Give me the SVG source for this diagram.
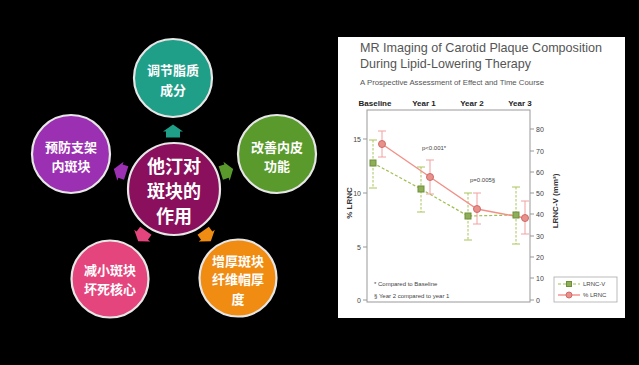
<svg xmlns="http://www.w3.org/2000/svg" xmlns:xlink="http://www.w3.org/1999/xlink" width="639" height="365" viewBox="0 0 639 365">
<style>
.node circle{stroke:#e6e6e6;stroke-width:2.2}
.zh{font-family:"Noto Sans CJK SC","Noto Sans CJK TC",sans-serif;font-weight:bold;fill:#fff;text-anchor:middle}
.o{font-size:13px}
.c{font-size:18px}
.t{font-family:"Liberation Sans","Noto Sans",sans-serif;fill:#555}
.hd{font-family:"Liberation Sans",sans-serif;font-weight:bold;font-size:8px;fill:#222;text-anchor:middle}
.tk{font-family:"Liberation Sans",sans-serif;font-size:7px;fill:#444}
.sm{font-family:"Liberation Sans",sans-serif;font-size:6px;fill:#444}
.gl{stroke:#9fbf52;stroke-width:1.2;stroke-dasharray:3 2;fill:none}
.ge{stroke:#a8c65a;stroke-width:1;stroke-dasharray:2.5 1.5;fill:none}
.gc{stroke:#a8c65a;stroke-width:1;fill:none}
.pl{stroke:#f29088;stroke-width:1.4;fill:none}
.pe{stroke:#f2a0a0;stroke-width:1;fill:none}
.sq{fill:#8fae5a;stroke:#6f8f35;stroke-width:1}
.ci{fill:#e8908a;stroke:#d06a6a;stroke-width:1}
.ax{stroke:#999;stroke-width:1;fill:none}
</style>
<defs>
<path id="arr" d="M0,-6.5 L10,0.5 L7,0.5 L7,6.5 L-7,6.5 L-7,0.5 L-10,0.5 Z"/>
</defs>
<rect x="0" y="0" width="639" height="365" fill="#000"/>

<g id="connectors">
<use xlink:href="#arr" href="#arr" transform="translate(173,131)" fill="#1f9e88"/>
<use xlink:href="#arr" href="#arr" transform="translate(227,171) rotate(72)" fill="#5a9a2c"/>
<use xlink:href="#arr" href="#arr" transform="translate(207,236) rotate(144)" fill="#f08c12"/>
<use xlink:href="#arr" href="#arr" transform="translate(142,236) rotate(216)" fill="#e4457d"/>
<use xlink:href="#arr" href="#arr" transform="translate(120,171) rotate(288)" fill="#9c30b2"/>
</g>

<g id="node-center" class="node">
<circle cx="174" cy="189" r="46" fill="#8a0f5c"/>
<text class="zh c" x="174" y="173">他汀对</text>
<text class="zh c" x="174" y="198">斑块的</text>
<text class="zh c" x="174" y="223">作用</text>
</g>
<g id="node-top" class="node">
<circle cx="173" cy="78" r="39" fill="#1f9e88"/>
<text class="zh o" x="173" y="75">调节脂质</text>
<text class="zh o" x="173" y="95">成分</text>
</g>
<g id="node-right" class="node">
<circle cx="277" cy="154" r="39" fill="#5a9a2c"/>
<text class="zh o" x="277" y="152">改善内皮</text>
<text class="zh o" x="277" y="171">功能</text>
</g>
<g id="node-left" class="node">
<circle cx="71" cy="154" r="39" fill="#9c30b2"/>
<text class="zh o" x="71" y="152">预防支架</text>
<text class="zh o" x="71" y="171">内斑块</text>
</g>
<g id="node-bottom-left" class="node">
<circle cx="110" cy="279" r="38.5" fill="#e4457d"/>
<text class="zh o" x="110" y="275">减小斑块</text>
<text class="zh o" x="110" y="294">坏死核心</text>
</g>
<g id="node-bottom-right" class="node">
<circle cx="238" cy="278" r="38.5" fill="#f08c12"/>
<text class="zh o" x="238" y="266">增厚斑块</text>
<text class="zh o" x="238" y="284">纤维帽厚</text>
<text class="zh o" x="238" y="304">度</text>
</g>

<g id="chart">
<rect x="338" y="37" width="287" height="281" fill="#fff"/>
<text class="t" x="360" y="52" font-size="13" textLength="242" lengthAdjust="spacingAndGlyphs">MR Imaging of Carotid Plaque Composition</text>
<text class="t" x="360" y="68" font-size="13" textLength="171" lengthAdjust="spacingAndGlyphs">During Lipid-Lowering Therapy</text>
<text class="t" x="360" y="85" font-size="7.5" textLength="184" lengthAdjust="spacingAndGlyphs">A Prospective Assessment of Effect and Time Course</text>
<text class="hd" x="375" y="106">Baseline</text>
<text class="hd" x="424" y="106">Year 1</text>
<text class="hd" x="472" y="106">Year 2</text>
<text class="hd" x="520" y="106">Year 3</text>

<rect class="ax" x="367" y="110" width="163" height="192"/>
<g class="ax">
<path d="M363,139H367M363,193H367M363,247H367M363,300H367"/>
<path d="M530,129H534M530,151H534M530,172H534M530,193H534M530,214H534M530,236H534M530,257H534M530,278H534M530,300H534"/>
</g>
<g class="tk" text-anchor="end">
<text x="361" y="141.5">15</text>
<text x="361" y="195.5">10</text>
<text x="361" y="249.5">5</text>
<text x="361" y="302.5">0</text>
</g>
<g class="tk">
<text x="536" y="131.5">80</text>
<text x="536" y="153.5">70</text>
<text x="536" y="174.5">60</text>
<text x="536" y="195.5">50</text>
<text x="536" y="216.5">40</text>
<text x="536" y="238.5">30</text>
<text x="536" y="259.5">20</text>
<text x="536" y="280.5">10</text>
<text x="536" y="302.5">0</text>
</g>
<text font-family="Liberation Sans,sans-serif" font-weight="bold" font-size="8" fill="#333" text-anchor="middle" transform="translate(352,203) rotate(-90)">% LRNC</text>
<text font-family="Liberation Sans,sans-serif" font-weight="bold" font-size="8" fill="#333" text-anchor="middle" transform="translate(558,201) rotate(-90)">LRNC-V (mm³)</text>

<polyline class="gl" points="373,163 421,189 468,216 516,215"/>
<g>
<path class="ge" d="M373,140V188M421,167V212M468,193V240M516,187V244"/>
<path class="gc" d="M369,140H377M369,188H377M417,167H425M417,212H425M464,193H472M464,240H472M512,187H520M512,244H520"/>
</g>
<polyline class="pl" points="382,144 430,177 477,209 525,218"/>
<path class="pe" d="M382,131V157M430,160V194M477,193V224M525,201V234M378,131H386M378,157H386M426,160H434M426,194H434M473,193H481M473,224H481M521,201H529M521,234H529"/>
<g>
<rect class="sq" x="370" y="160" width="6" height="6"/>
<rect class="sq" x="418" y="186" width="6" height="6"/>
<rect class="sq" x="465" y="213" width="6" height="6"/>
<rect class="sq" x="513" y="212" width="6" height="6"/>
</g>
<g>
<circle class="ci" cx="382" cy="144" r="3.5"/>
<circle class="ci" cx="430" cy="177" r="3.5"/>
<circle class="ci" cx="477" cy="209" r="3.5"/>
<circle class="ci" cx="525" cy="218" r="3.5"/>
</g>
<text class="sm" x="422" y="150">p&lt;0.001*</text>
<text class="sm" x="470" y="182">p=0.005§</text>
<text class="sm" x="374" y="286">* Compared to Baseline</text>
<text class="sm" x="374" y="298">§ Year 2 compared to year 1</text>

<rect x="554" y="277" width="63" height="25" fill="#fff" stroke="#aaa" stroke-width="0.8"/>
<path class="gl" d="M558,284H580"/>
<rect class="sq" x="566.5" y="281.5" width="5" height="5"/>
<path class="pl" d="M558,295H580"/>
<circle class="ci" cx="569" cy="295" r="3"/>
<text class="sm" x="583" y="286">LRNC-V</text>
<text class="sm" x="583" y="297">% LRNC</text>
</g>
</svg>
